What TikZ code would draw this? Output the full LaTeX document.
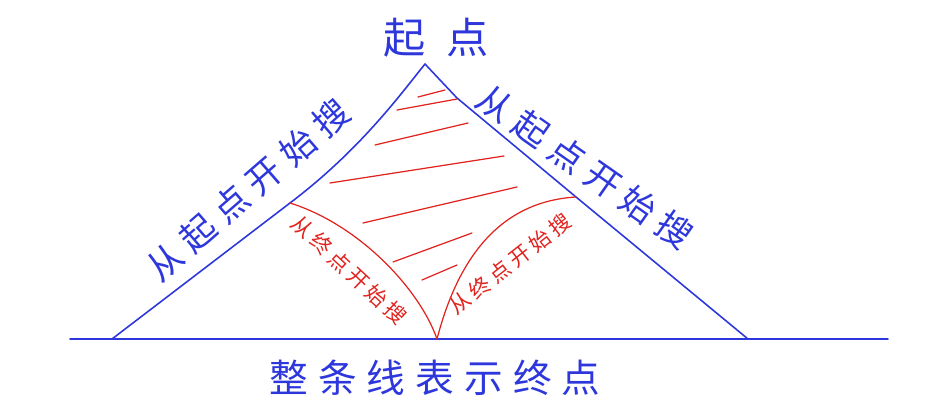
\documentclass[tikz,border=0pt]{standalone}
\usepackage{fontspec}
\usepackage{xcolor}
\usepackage{tikz}
\usetikzlibrary{positioning,calc}
\newfontfamily\cjk{Noto Sans CJK SC}
\definecolor{penblue}{RGB}{45,55,220}
\definecolor{penred}{RGB}{225,35,30}
\newcommand{\spaced}[3]{\fontsize{#1}{#1}\selectfont\addfontfeatures{LetterSpace=#2}#3}

\begin{document}
\begin{tikzpicture}[x=0.02cm,y=-0.02cm,
  blueline/.style={penblue,line width=0.9pt,line join=round,line cap=round},
  redline/.style={penred,line width=0.7pt,line cap=round},
  bluetext/.style={penblue,font=\cjk,inner sep=0pt},
  redtext/.style={penred,font=\cjk,inner sep=0pt}]
\useasboundingbox (0,0) rectangle (940,412);
% goal line and search triangle
\coordinate (gl) at (70,339);
\coordinate (gr) at (888,339);
\coordinate (apex) at (425,64);
\coordinate (lb) at (112,339);
\coordinate (rb) at (748,339);
\coordinate (goal) at (437,339);
\coordinate (ml) at (290,203);
\coordinate (mr) at (576,197);
\draw[blueline] (gl) -- (gr);
\draw[blueline] (lb) -- (ml) .. controls (360,150) and (400,95) .. (apex)
  .. controls (440,80) .. (457,98) -- (mr) -- (rb);
% search from the goal
\draw[redline] (ml) .. controls (360,225) and (420,290) .. (goal);
\draw[redline] (goal) .. controls (455,270) and (492,202) .. (mr);
% hatching of the overlap
\foreach \xa/\ya/\xb/\yb in {418/97/445/90, 397/110/457/99, 375/145/468/123,
  330/183/504/156, 363/223/517/187, 393/262/472/233, 422/280/457/265}
  \draw[redline] (\xa,\ya) -- (\xb,\yb);
% labels
\node[bluetext] (start) at (436,38) {\spaced{24}{50}{起点}};
\node[bluetext,rotate=41] (fromstartl) at (248,190) {\spaced{20}{25}{从起点开始搜}};
\node[bluetext,rotate=-35] (fromstartr) at (585,167) {\spaced{20}{25}{从起点开始搜}};
\node[redtext,rotate=-43] (fromgoall) at (349,270) {\spaced{12}{20}{从终点开始搜}};
\node[redtext,rotate=38] (fromgoalr) at (510,264) {\spaced{12}{20}{从终点开始搜}};
\node[bluetext] (goaltext) at (435,378) {\spaced{22}{26}{整条线表示终点}};
\end{tikzpicture}
\end{document}
